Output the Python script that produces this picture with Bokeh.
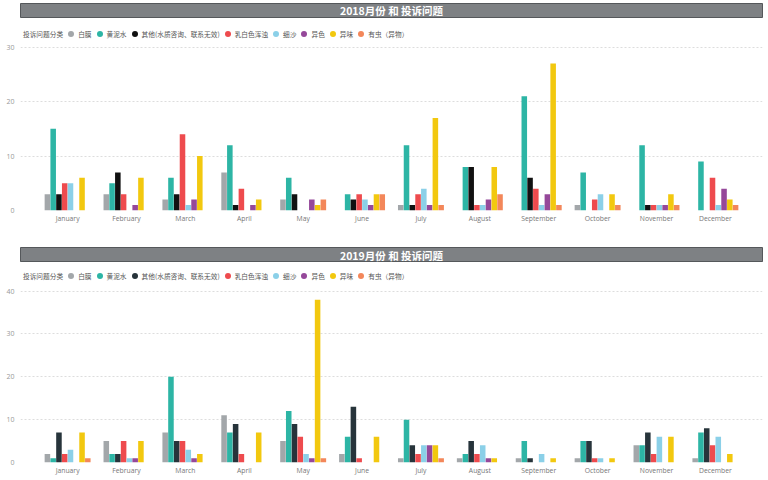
from bokeh.plotting import figure
from bokeh.models import ColumnDataSource, FactorRange, Legend, LegendItem, Range1d, FixedTicker
from bokeh.transform import dodge
from bokeh.layouts import column
from bokeh.core.properties import value
from bokeh.embed import file_html
from bokeh.resources import INLINE

months = ["January", "February", "March", "April", "May", "June", "July",
          "August", "September", "October", "November", "December"]
categories = ["白膜", "黄泥水", "其他(水质咨询、联系无效)", "乳白色浑浊", "细沙", "异色", "异味", "有虫（异物）"]
legend_title = "投诉问题分类"
titles = ["2018月份 和 投诉问题", "2019月份 和 投诉问题"]

# 2018 values per category (Jan..Dec)
y2018_baimo = [3, 3, 2, 7, 2, 0, 1, 0, 0, 1, 0, 0]
y2018_huangni = [15, 5, 6, 12, 6, 3, 12, 8, 21, 7, 12, 9]
y2018_qita = [3, 7, 3, 1, 3, 2, 1, 8, 6, 0, 1, 0]
y2018_rubai = [5, 3, 14, 4, 0, 3, 3, 1, 4, 2, 1, 6]
y2018_xisha = [5, 0, 1, 0, 0, 2, 4, 1, 1, 3, 1, 1]
y2018_yise = [0, 1, 2, 1, 2, 1, 1, 2, 3, 0, 1, 4]
y2018_yiwei = [6, 6, 10, 2, 1, 3, 17, 8, 27, 3, 3, 2]
y2018_youchong = [0, 0, 0, 0, 2, 3, 1, 3, 1, 1, 1, 1]

# 2019 values per category (Jan..Dec)
y2019_baimo = [2, 5, 7, 11, 5, 2, 1, 1, 1, 1, 4, 1]
y2019_huangni = [1, 2, 20, 7, 12, 6, 10, 2, 5, 5, 4, 7]
y2019_qita = [7, 2, 5, 9, 9, 13, 4, 5, 1, 5, 7, 8]
y2019_rubai = [2, 5, 5, 2, 6, 1, 2, 2, 0, 1, 2, 4]
y2019_xisha = [3, 1, 3, 0, 2, 0, 4, 4, 2, 1, 6, 6]
y2019_yise = [0, 1, 1, 0, 1, 0, 4, 1, 0, 0, 0, 0]
y2019_yiwei = [7, 5, 2, 7, 38, 6, 4, 1, 1, 1, 6, 2]
y2019_youchong = [1, 0, 0, 0, 1, 0, 1, 0, 0, 0, 0, 0]

data2018 = [y2018_baimo, y2018_huangni, y2018_qita, y2018_rubai,
            y2018_xisha, y2018_yise, y2018_yiwei, y2018_youchong]
data2019 = [y2019_baimo, y2019_huangni, y2019_qita, y2019_rubai,
            y2019_xisha, y2019_yise, y2019_yiwei, y2019_youchong]

keys = ["c%d" % i for i in range(len(categories))]
colors_base = ["#A3A7AA", "#2DB5A5", "#111111", "#EE4B4E", "#8BD0E8", "#95489A", "#F2C80F", "#F3875A"]

CJK_NAME = "Noto Sans CJK SC"
CJK = value(CJK_NAME)
LEG_H = 19


def make_bar(text, height, top, bottom):
    b = figure(width=768, height=height, x_range=Range1d(0, 1), y_range=Range1d(0, 1),
               x_axis_type=None, y_axis_type=None, output_backend="svg",
               toolbar_location=None, min_border_left=3, min_border_right=3,
               min_border_top=top, min_border_bottom=bottom)
    b.grid.visible = False
    b.background_fill_color = "#7E8184"
    b.border_fill_color = "white"
    b.outline_line_color = "#55585B"
    b.outline_line_width = 1
    b.text(x=[0.5], y=[0.5], text=[text], text_align="center", text_baseline="middle",
           text_color="white", text_font=CJK, text_font_size="10.5px", text_font_style="bold")
    return b


def make_chart(data, other_color, ymax, yticks, height, top, bottom):
    src = ColumnDataSource(dict(month=months, **{k: v for k, v in zip(keys, data)}))
    xr = FactorRange(*months)
    xr.range_padding = 0.3
    xr.range_padding_units = "absolute"
    p = figure(x_range=xr, y_range=Range1d(0, ymax), width=768, height=height,
               output_backend="svg", toolbar_location=None,
               min_border_left=20, min_border_right=6, min_border_top=top,
               min_border_bottom=bottom)
    p.outline_line_color = None
    p.border_fill_color = "white"
    cols = list(colors_base)
    cols[2] = other_color
    bw = 0.098
    # invisible helper renderer only used to hold the legend's heading text
    r0 = p.scatter(x=dodge("month", 0, range=p.x_range), y=keys[0], source=src, size=0,
                   fill_alpha=0, line_alpha=0)
    items = [LegendItem(label=legend_title, renderers=[r0])]
    for i, (k, c, name) in enumerate(zip(keys, cols, categories)):
        p.vbar(x=dodge("month", (i - 3.5) * bw, range=p.x_range), top=k, width=bw * 0.96,
               source=src, fill_color=c, line_color=None)
        r = p.scatter(x=dodge("month", (i - 3.5) * bw, range=p.x_range), y=k, source=src,
                      marker="circle", size=0, fill_color=c, line_color=None)
        items.append(LegendItem(label=name, renderers=[r]))
    frame_h = height - top - bottom
    leg = Legend(items=items, orientation="horizontal", location=(-12, frame_h - LEG_H),
                 label_text_font=CJK_NAME, label_text_font_size="6.7px", label_text_color="#555555",
                 glyph_width=15, glyph_height=15, label_standoff=-4, spacing=0,
                 padding=2, margin=0, label_height=8, label_width=0,
                 border_line_color=None, background_fill_alpha=0)
    p.add_layout(leg, "center")
    p.yaxis.ticker = FixedTicker(ticks=yticks)
    p.yaxis.axis_line_color = None
    p.yaxis.major_tick_line_color = None
    p.yaxis.minor_tick_line_color = None
    p.yaxis.major_tick_out = 0
    p.yaxis.major_tick_in = 0
    p.yaxis.minor_tick_out = 0
    p.yaxis.major_label_text_font = "Open Sans"
    p.yaxis.major_label_text_font_size = "7px"
    p.yaxis.major_label_text_color = "#999999"
    p.yaxis.major_label_standoff = 6
    p.xaxis.axis_line_color = None
    p.xaxis.major_tick_line_color = None
    p.xaxis.minor_tick_line_color = None
    p.xaxis.major_tick_out = 0
    p.xaxis.major_tick_in = 0
    p.xaxis.minor_tick_out = 0
    p.xaxis.major_label_text_font = "Open Sans"
    p.xaxis.major_label_text_font_size = "6.8px"
    p.xaxis.major_label_text_color = "#777777"
    p.xaxis.major_label_standoff = 3
    p.xgrid.grid_line_color = None
    p.ygrid.grid_line_color = "#DDDDDD"
    p.ygrid.grid_line_dash = "2 2"
    p.ygrid.ticker = FixedTicker(ticks=yticks)
    return p


bar1 = make_bar(titles[0], 20, 3, 3)
chart1 = make_chart(data2018, "#111111", 34.54, [0, 10, 20, 30], 220, 2, 30)
bar2 = make_bar(titles[1], 22, 7, 0)
chart2 = make_chart(data2019, "#27343B", 46.2, [0, 10, 20, 30, 40], 218, 2, 18)

layout = column(bar1, chart1, bar2, chart2, spacing=0)
open("out.html", "w").write(file_html(layout, INLINE))
